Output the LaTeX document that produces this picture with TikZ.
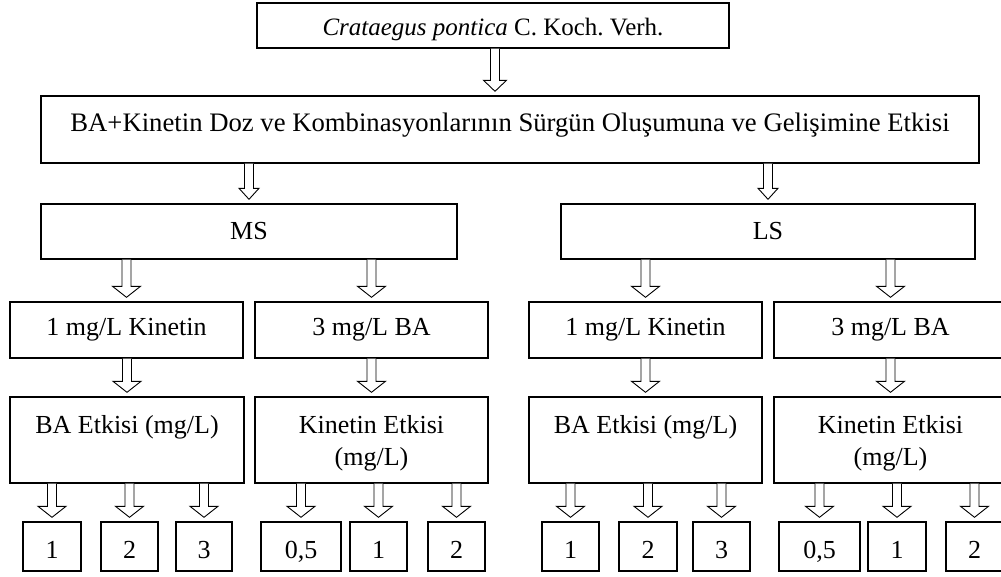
\documentclass[tikz,border=0pt]{standalone}
\usepackage{fontspec}
\setmainfont{Liberation Serif}
\frenchspacing
\usetikzlibrary{calc}
\tikzset{
  x=1pt, y=-1pt,
  box/.style={draw, line width=1.4pt, rectangle, inner sep=0pt, font=\fontsize{26}{32}\selectfont, align=center},
  num/.style={box, text height=24pt, text depth=0pt},
  txt/.style={inner sep=0pt, font=\fontsize{26}{32}\selectfont, align=center},
  arr/.style={draw, line width=0.9pt, fill=white, line join=miter}
}
% name, x1, y1, x2, y2, text
\newcommand\bx[7][]{\node[box, #1, minimum width={(#5)-(#3)}, minimum height={(#6)-(#4)}] (#2) at ({((#3)+(#5))/2},{((#4)+(#6))/2}) {#7};}
% head half width, x shift, parent, child
\newcommand\barrow[4]{%
  \draw[arr] let \p1=(#3.south), \p2=(#4.north) in
    ({\x2+(#2)*1pt-4.5pt},\y1) -- ({\x2+(#2)*1pt-4.5pt},{\y2+15pt}) --
    ({\x2+(#2)*1pt-(#1)*1pt},{\y2+15pt}) -- ({\x2+(#2)*1pt},{\y2+4pt}) --
    ({\x2+(#2)*1pt+(#1)*1pt},{\y2+15pt}) -- ({\x2+(#2)*1pt+4.5pt},{\y2+15pt}) --
    ({\x2+(#2)*1pt+4.5pt},\y1);}
\begin{document}
\begin{tikzpicture}
\useasboundingbox (0,0) rectangle (1001,576);
\clip (0,0) rectangle (1001,576);
\bx[font=\fontsize{25}{30}\selectfont, text height=21pt, text depth=2pt]{top}{257}{3}{729}{48}{\textit{Crataegus pontica} C. Koch. Verh.}
\bx[font=\fontsize{26.7}{32}\selectfont, text depth=14pt]{main}{41}{96}{979}{163}
  {BA+Kinetin Doz ve Kombinasyonlarının Sürgün Oluşumuna ve Gelişimine Etkisi}
\bx{ms}{41}{204}{457}{259}{MS}
\bx{ls}{561}{204}{975}{259}{LS}
\bx{ms1}{10}{302}{243}{358}{1 mg/L Kinetin}
\bx{ms3}{255}{302}{488}{358}{3 mg/L BA}
\bx{ls1}{529}{302}{762}{358}{1 mg/L Kinetin}
\bx{ls3}{774}{302}{1007}{358}{3 mg/L BA}
\bx{msba}{10}{397}{244}{483}{}
\bx{mskin}{255}{397}{488}{483}{}
\bx{lsba}{529}{397}{762}{483}{}
\bx{lskin}{774}{397}{1007}{483}{}
\node[txt, anchor=north, yshift=-19pt] (msbat) at (msba.north) {BA Etkisi (mg/L)};
\node[txt, anchor=north, yshift=-19pt] (mskint) at (mskin.north) {Kinetin Etkisi\\(mg/L)};
\node[txt, anchor=north, yshift=-19pt] (lsbat) at (lsba.north) {BA Etkisi (mg/L)};
\node[txt, anchor=north, yshift=-19pt] (lskint) at (lskin.north) {Kinetin Etkisi\\(mg/L)};
\bx[num]{msba1}{23}{522}{81}{571}{1}
\bx[num]{msba2}{101}{522}{158}{571}{2}
\bx[num]{msba3}{176}{522}{232}{571}{3}
\bx[num]{mskin05}{261}{522}{341}{571}{0,5}
\bx[num]{mskin1}{350}{522}{407}{571}{1}
\bx[num]{mskin2}{428}{522}{485}{571}{2}
\bx[num]{lsba1}{542}{522}{599}{571}{1}
\bx[num]{lsba2}{619}{522}{677}{571}{2}
\bx[num]{lsba3}{693}{522}{750}{571}{3}
\bx[num]{lskin05}{779}{522}{860}{571}{0,5}
\bx[num]{lskin1}{868}{522}{926}{571}{1}
\bx[num]{lskin2}{946}{522}{1003}{571}{2}
\barrow{11.5}{-15}{top}{main}
\barrow{10}{0}{main}{ms}
\barrow{10}{0}{main}{ls}
\barrow{14}{0}{ms}{ms1}
\barrow{14}{0}{ms}{ms3}
\barrow{14}{0}{ls}{ls1}
\barrow{14}{0}{ls}{ls3}
\barrow{14}{0}{ms1}{msba}
\barrow{14}{0}{ms3}{mskin}
\barrow{14}{0}{ls1}{lsba}
\barrow{14}{0}{ls3}{lskin}
\barrow{14}{0}{msba}{msba1}
\barrow{14}{0}{msba}{msba2}
\barrow{14}{0}{msba}{msba3}
\barrow{14}{0}{mskin}{mskin05}
\barrow{14}{0}{mskin}{mskin1}
\barrow{14}{0}{mskin}{mskin2}
\barrow{14}{0}{lsba}{lsba1}
\barrow{14}{0}{lsba}{lsba2}
\barrow{14}{0}{lsba}{lsba3}
\barrow{14}{0}{lskin}{lskin05}
\barrow{14}{0}{lskin}{lskin1}
\barrow{14}{0}{lskin}{lskin2}
\end{tikzpicture}
\end{document}
